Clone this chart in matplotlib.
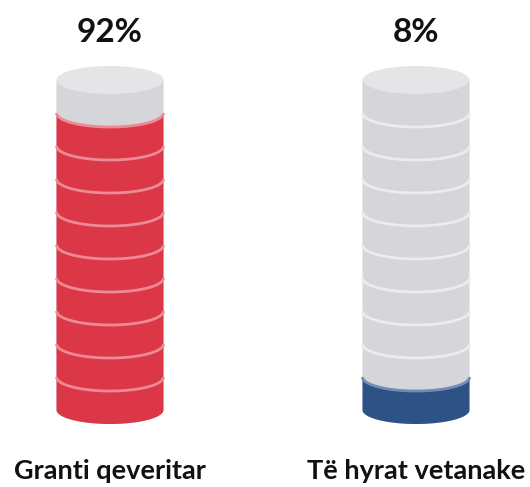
import numpy as np
import matplotlib.pyplot as plt
from matplotlib.patches import Polygon, Ellipse

# data
labels = ['Granti qeveritar', 'Të hyrat vetanake']
shares = [92, 8]
fill_colors = ['#db3746', '#2f5286']
line_colors = ['#ec8a95', '#6f8db5']
n_discs = 10

grey_side = '#d5d5da'
grey_top = '#e5e5e8'
grey_line = '#ececef'

fig = plt.figure(figsize=(5.30, 4.87), dpi=100)
ax = fig.add_axes([0, 0, 1, 1])
ax.set_xlim(0, 530)
ax.set_ylim(487, 0)
ax.axis('off')

centers = [110, 416]
hw = 53.5      # half width
eh = 14        # ellipse half height
top_y = 80
bot_y = 410
disc_h = (bot_y - top_y) / n_discs

t = np.linspace(0, np.pi, 80)


def lower_arc(cx, cy):
    # from left to right along the front (lower) arc
    return np.column_stack([cx - hw * np.cos(t), cy + eh * np.sin(t)])


for cx, pct, fc, lc, lab in zip(centers, shares, fill_colors, line_colors, labels):
    # grey body
    body = np.vstack([[[cx - hw, top_y], [cx + hw, top_y]],
                      lower_arc(cx, bot_y)[::-1]])
    ax.add_patch(Polygon(body, closed=True, fc=grey_side, ec='none', zorder=1))

    n_fill = int(round(pct / 100 * n_discs))
    fill_top = bot_y - n_fill * disc_h

    # disc separators in the grey part
    for k in range(1, n_discs - n_fill):
        arc = lower_arc(cx, top_y + k * disc_h)
        ax.plot(arc[:, 0], arc[:, 1], color=grey_line, lw=2, zorder=2,
                solid_capstyle='butt')

    # coloured fill
    fill = np.vstack([lower_arc(cx, fill_top), lower_arc(cx, bot_y)[::-1]])
    ax.add_patch(Polygon(fill, closed=True, fc=fc, ec='none', zorder=3))
    arc = lower_arc(cx, fill_top)
    ax.plot(arc[:, 0], arc[:, 1], color=lc, lw=2, zorder=4, solid_capstyle='butt')
    for k in range(1, n_fill):
        arc = lower_arc(cx, fill_top + k * disc_h)
        ax.plot(arc[:, 0], arc[:, 1], color=lc, lw=2, zorder=4,
                solid_capstyle='butt')

    # top cap
    ax.add_patch(Ellipse((cx, top_y), 2 * hw, 2 * eh, fc=grey_top, ec='none', zorder=5))

    ax.text(cx, 42, f'{pct}%', ha='center', va='baseline', fontsize=24,
            fontweight='bold', family='Lato', color='#111111')
    ax.text(cx, 479, lab, ha='center', va='baseline', fontsize=19.5,
            fontweight='bold', family='Lato', color='#111111')

fig.savefig('out.png', dpi=100)
